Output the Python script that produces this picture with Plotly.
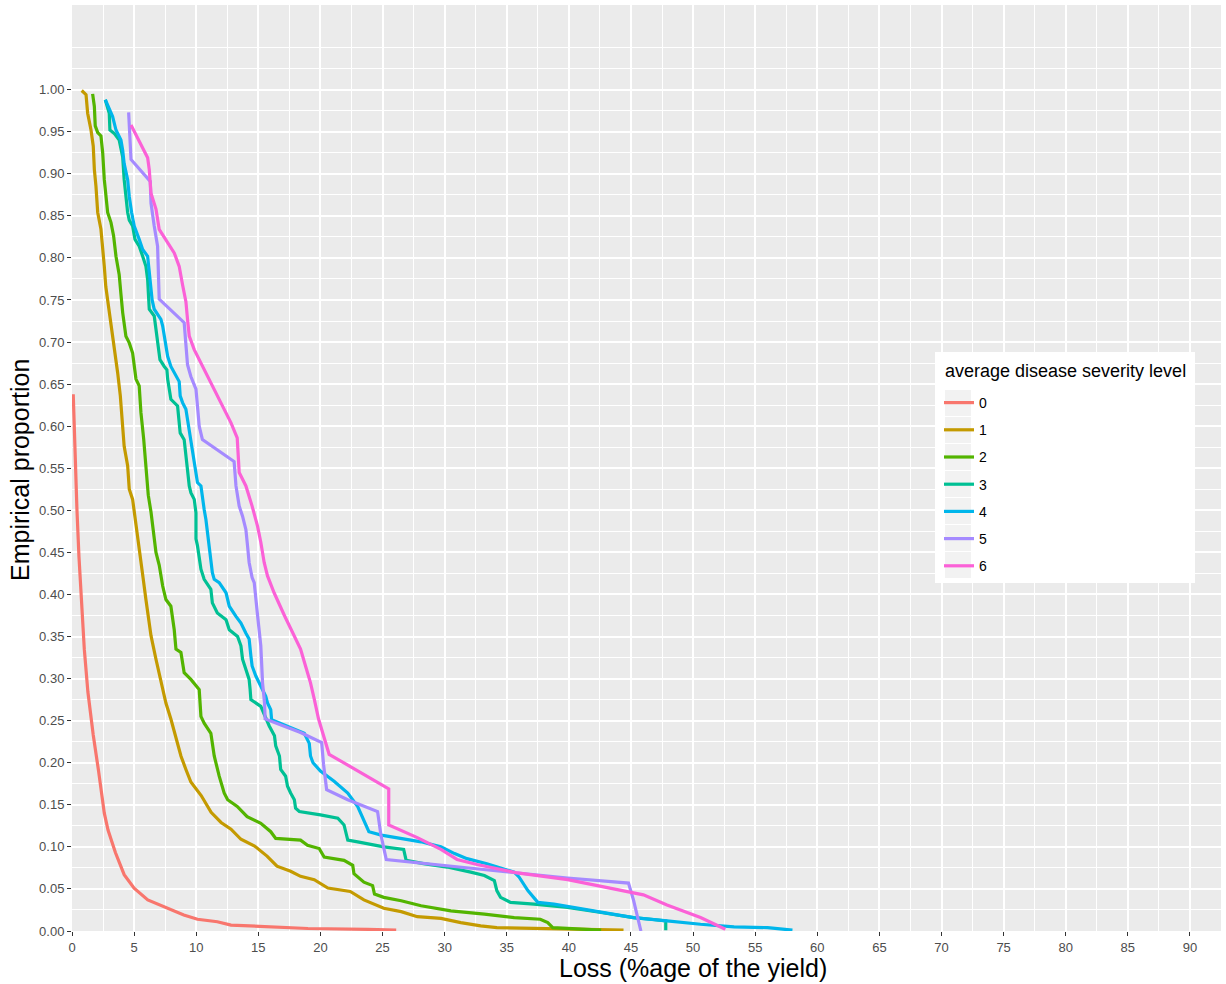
import plotly.graph_objects as go

levels = ["0", "1", "2", "3", "4", "5", "6"]
colors = ["#F8766D", "#C49A00", "#53B400", "#00C094", "#00B6EB", "#A58AFF", "#FB61D7"]

loss_0 = [0.1, 0.18, 0.27, 0.4, 0.56, 0.76, 0.99, 1.28, 1.71, 2.14, 2.6, 2.9, 3.5, 4.2, 5.0, 6.1, 7.7, 9.0, 10.1, 11.7, 12.8, 15.7, 19.0, 23.8, 26.1]
prop_0 = [0.638, 0.6, 0.543, 0.5, 0.445, 0.386, 0.335, 0.284, 0.233, 0.19, 0.14, 0.12, 0.093, 0.067, 0.051, 0.037, 0.027, 0.019, 0.014, 0.011, 0.007, 0.005, 0.003, 0.002, 0.001]

loss_1 = [0.78, 1.13, 1.26, 1.53, 1.71, 1.8, 1.93, 2.07, 2.33, 2.47, 2.6, 2.72, 2.87, 3.0, 3.14, 3.4, 3.68, 3.89, 4.08, 4.2, 4.48, 4.61, 4.88, 5.15, 5.35, 5.55, 5.72, 5.95, 6.36, 6.76, 7.16, 7.56, 7.96, 8.37, 8.77, 9.17, 9.57, 10.4, 11.2, 12.0, 12.8, 13.6, 14.7, 15.7, 16.5, 17.6, 18.4, 19.5, 20.6, 22.4, 23.5, 25.1, 26.5, 27.8, 29.7, 31.3, 32.9, 34.2, 38.5, 42.6, 44.4]
prop_1 = [0.999, 0.994, 0.972, 0.952, 0.933, 0.905, 0.885, 0.854, 0.834, 0.814, 0.79, 0.766, 0.75, 0.739, 0.719, 0.695, 0.663, 0.636, 0.604, 0.576, 0.553, 0.525, 0.513, 0.481, 0.458, 0.438, 0.42, 0.394, 0.351, 0.323, 0.295, 0.271, 0.252, 0.228, 0.208, 0.192, 0.177, 0.161, 0.141, 0.129, 0.121, 0.109, 0.101, 0.089, 0.077, 0.071, 0.065, 0.061, 0.051, 0.047, 0.037, 0.027, 0.023, 0.017, 0.015, 0.01, 0.006, 0.004, 0.003, 0.002, 0.001]

loss_2 = [1.66, 1.8, 1.87, 2.07, 2.33, 2.47, 2.6, 2.74, 2.87, 3.14, 3.35, 3.54, 3.8, 3.94, 4.08, 4.34, 4.61, 4.88, 5.15, 5.41, 5.55, 5.77, 5.95, 6.14, 6.36, 6.57, 6.76, 7.02, 7.16, 7.3, 7.56, 7.96, 8.23, 8.37, 8.77, 9.03, 9.57, 10.24, 10.38, 10.64, 11.18, 11.45, 11.85, 12.25, 12.53, 13.3, 14.1, 15.2, 16.0, 16.4, 18.4, 18.96, 19.9, 20.3, 21.9, 22.6, 22.7, 23.5, 24.2, 24.35, 25.1, 26.5, 28.1, 30.5, 33.2, 35.6, 37.7, 38.3, 38.7, 40.4, 42.6]
prop_2 = [0.995, 0.98, 0.957, 0.949, 0.945, 0.925, 0.893, 0.874, 0.854, 0.842, 0.826, 0.802, 0.78, 0.757, 0.735, 0.707, 0.699, 0.687, 0.656, 0.648, 0.616, 0.585, 0.553, 0.518, 0.498, 0.474, 0.45, 0.435, 0.422, 0.41, 0.394, 0.386, 0.358, 0.335, 0.331, 0.307, 0.299, 0.287, 0.255, 0.247, 0.235, 0.208, 0.184, 0.164, 0.156, 0.148, 0.136, 0.128, 0.118, 0.11, 0.108, 0.102, 0.098, 0.088, 0.084, 0.078, 0.068, 0.058, 0.054, 0.044, 0.04, 0.036, 0.03, 0.024, 0.02, 0.016, 0.014, 0.01, 0.004, 0.003, 0.001]

loss_3 = [2.68, 3.0, 3.05, 3.4, 3.8, 4.08, 4.2, 4.34, 4.48, 4.61, 4.88, 5.07, 5.41, 5.69, 5.95, 6.09, 6.14, 6.22, 6.62, 6.76, 6.89, 7.08, 7.43, 7.64, 7.7, 7.83, 7.96, 8.5, 8.63, 8.71, 9.03, 9.17, 9.3, 9.44, 9.57, 9.84, 9.98, 9.98, 10.1, 10.24, 10.38, 10.64, 11.18, 11.3, 11.7, 12.4, 12.66, 13.33, 13.6, 13.73, 14.0, 14.26, 14.34, 14.4, 15.2, 15.6, 15.87, 16.3, 16.4, 16.7, 16.8, 17.2, 17.35, 17.6, 17.9, 18.0, 18.3, 20.0, 21.4, 21.9, 22.2, 23.0, 23.8, 25.1, 26.7, 26.9, 28.3, 30.2, 32.1, 33.2, 34.0, 34.2, 34.5, 35.3, 37.2, 39.9, 42.6, 45.2, 46.6, 47.8, 47.8]
prop_3 = [0.988, 0.972, 0.952, 0.948, 0.94, 0.92, 0.893, 0.873, 0.854, 0.845, 0.838, 0.822, 0.814, 0.802, 0.79, 0.774, 0.75, 0.739, 0.731, 0.715, 0.703, 0.679, 0.671, 0.667, 0.656, 0.644, 0.632, 0.624, 0.608, 0.592, 0.584, 0.564, 0.553, 0.529, 0.521, 0.513, 0.497, 0.466, 0.458, 0.446, 0.43, 0.418, 0.406, 0.39, 0.378, 0.37, 0.358, 0.35, 0.339, 0.323, 0.311, 0.299, 0.287, 0.275, 0.267, 0.252, 0.244, 0.232, 0.22, 0.208, 0.192, 0.184, 0.172, 0.164, 0.156, 0.146, 0.142, 0.138, 0.134, 0.126, 0.108, 0.106, 0.104, 0.1, 0.097, 0.084, 0.08, 0.076, 0.07, 0.066, 0.06, 0.048, 0.04, 0.034, 0.032, 0.028, 0.022, 0.016, 0.014, 0.012, 0.001]

loss_4 = [2.68, 3.0, 3.27, 3.54, 3.94, 4.08, 4.2, 4.48, 4.61, 4.8, 5.01, 5.41, 5.69, 6.09, 6.22, 6.36, 6.45, 6.62, 7.16, 7.3, 7.43, 7.56, 7.7, 7.96, 8.23, 8.63, 8.71, 8.9, 9.17, 9.3, 9.44, 9.57, 9.71, 9.84, 9.98, 10.1, 10.38, 10.5, 10.64, 10.78, 10.9, 11.05, 11.18, 11.3, 11.45, 11.85, 12.4, 12.66, 13.2, 13.6, 14.0, 14.26, 14.4, 14.5, 14.8, 15.07, 15.3, 15.6, 15.74, 16.0, 16.07, 17.1, 18.16, 18.7, 19.1, 19.2, 19.4, 20.0, 21.1, 22.2, 23.0, 23.5, 23.9, 24.9, 26.5, 28.1, 29.7, 30.8, 31.8, 33.4, 35.6, 36.0, 36.7, 37.5, 38.8, 40.4, 42.6, 45.2, 47.9, 50.6, 53.3, 56.0, 58.0]
prop_4 = [0.988, 0.978, 0.968, 0.952, 0.94, 0.928, 0.912, 0.893, 0.873, 0.854, 0.838, 0.822, 0.81, 0.802, 0.782, 0.766, 0.75, 0.739, 0.727, 0.719, 0.707, 0.695, 0.683, 0.671, 0.663, 0.653, 0.636, 0.628, 0.62, 0.608, 0.596, 0.584, 0.572, 0.561, 0.545, 0.533, 0.529, 0.513, 0.501, 0.489, 0.473, 0.458, 0.442, 0.426, 0.418, 0.414, 0.402, 0.386, 0.374, 0.366, 0.354, 0.347, 0.327, 0.315, 0.303, 0.295, 0.287, 0.279, 0.271, 0.263, 0.251, 0.245, 0.239, 0.235, 0.223, 0.208, 0.2, 0.19, 0.178, 0.164, 0.148, 0.13, 0.118, 0.114, 0.11, 0.106, 0.1, 0.092, 0.086, 0.08, 0.07, 0.064, 0.048, 0.034, 0.032, 0.028, 0.022, 0.016, 0.012, 0.008, 0.005, 0.004, 0.001]

loss_5 = [4.56, 4.61, 4.75, 6.3, 6.36, 6.62, 6.89, 7.02, 9.03, 9.17, 9.3, 9.57, 9.98, 10.1, 10.24, 10.5, 13.05, 13.2, 13.46, 13.73, 14.0, 14.13, 14.26, 14.5, 14.67, 14.94, 15.2, 15.34, 15.5, 15.55, 16.27, 18.4, 20.1, 20.25, 20.5, 22.2, 24.6, 24.86, 25.3, 29.1, 34.5, 39.9, 44.8, 45.2, 45.8]
prop_5 = [0.973, 0.96, 0.917, 0.891, 0.865, 0.838, 0.814, 0.751, 0.723, 0.697, 0.673, 0.659, 0.644, 0.624, 0.6, 0.584, 0.558, 0.529, 0.505, 0.493, 0.477, 0.458, 0.438, 0.42, 0.414, 0.375, 0.339, 0.295, 0.271, 0.252, 0.248, 0.236, 0.224, 0.198, 0.168, 0.156, 0.142, 0.115, 0.085, 0.079, 0.071, 0.063, 0.057, 0.037, 0.0]

loss_6 = [4.75, 6.09, 6.22, 6.36, 6.76, 7.02, 8.23, 8.63, 8.9, 9.17, 9.3, 9.44, 9.84, 10.5, 11.18, 11.98, 12.8, 13.3, 13.46, 14.0, 14.5, 14.94, 15.2, 15.47, 15.74, 16.27, 17.1, 17.9, 18.4, 18.8, 19.2, 19.5, 19.85, 20.7, 25.5, 25.5, 27.8, 29.7, 31.0, 32.6, 35.85, 39.9, 45.2, 46.0, 47.9, 50.6, 52.6]
prop_6 = [0.958, 0.919, 0.905, 0.877, 0.858, 0.834, 0.806, 0.79, 0.768, 0.748, 0.727, 0.707, 0.691, 0.671, 0.652, 0.628, 0.604, 0.586, 0.545, 0.529, 0.505, 0.481, 0.462, 0.438, 0.422, 0.402, 0.375, 0.351, 0.335, 0.315, 0.295, 0.276, 0.252, 0.21, 0.169, 0.126, 0.111, 0.097, 0.085, 0.079, 0.069, 0.061, 0.045, 0.043, 0.031, 0.016, 0.002]

losses = [loss_0, loss_1, loss_2, loss_3, loss_4, loss_5, loss_6]
props = [prop_0, prop_1, prop_2, prop_3, prop_4, prop_5, prop_6]

x_ticks = list(range(0, 95, 5))
y_ticks = [i * 0.05 for i in range(21)]
y_minor = [0.025 + i * 0.05 for i in range(21)] + [1.05]

x_title = "Loss (%age of the yield)"
y_title = "Empirical proportion"
legend_title = "average disease severity level"

# figure geometry (pixels) used to place layout decorations
W, H = 1226, 984
ML, MR, MT, MB = 72, 5, 5, 53
PW, PH = W - ML - MR, H - MT - MB


def px_x(p):
    return (p - ML) / PW


def px_y(p):
    return (H - MB - p) / PH


fig = go.Figure()
for lev, col, xs, ys in zip(levels, colors, losses, props):
    fig.add_trace(go.Scatter(x=xs, y=ys, mode="lines", name=lev, legendgroup=lev,
                             line=dict(color=col, width=3.2)))

axis_common = dict(showline=False, zeroline=False, ticks="outside", ticklen=4,
                   tickcolor="#333333", tickwidth=1,
                   tickfont=dict(family="Liberation Sans, Arial", size=13, color="#4D4D4D"),
                   gridcolor="white", gridwidth=2)

shapes = [dict(type="rect", xref="paper", yref="paper",
               x0=px_x(935), x1=px_x(1195), y0=px_y(583), y1=px_y(352),
               fillcolor="white", line=dict(width=0), layer="above")]
for k in range(len(levels)):
    cy = 403 + 27 * k
    shapes.append(dict(type="rect", xref="paper", yref="paper",
                       x0=px_x(945), x1=px_x(971), y0=px_y(cy + 13), y1=px_y(cy - 13),
                       fillcolor="#F2F2F2", line=dict(width=0), layer="above"))

annotations = [
    dict(text=x_title, xref="paper", yref="paper", x=px_x(693), y=px_y(968),
         xanchor="center", yanchor="middle", showarrow=False,
         font=dict(size=25, color="black")),
    dict(text=y_title, xref="paper", yref="paper", x=px_x(20), y=px_y(470),
         xanchor="center", yanchor="middle", textangle=-90, showarrow=False,
         font=dict(size=25, color="black")),
    dict(text=legend_title, xref="paper", yref="paper", x=px_x(943), y=px_y(371),
         xanchor="left", yanchor="middle", showarrow=False,
         font=dict(size=18, color="black")),
]

fig.update_layout(
    width=W, height=H,
    margin=dict(l=ML, r=MR, t=MT, b=MB),
    paper_bgcolor="white", plot_bgcolor="#EBEBEB",
    font=dict(family="Liberation Sans, Arial", color="black"),
    xaxis=dict(range=[0, 92.5], tickmode="array", tickvals=x_ticks,
               ticktext=[str(v) for v in x_ticks],
               minor=dict(dtick=2.5, tick0=0, showgrid=True, gridcolor="white", gridwidth=1.2, ticks=""),
               **axis_common),
    yaxis=dict(range=[0, 1.1006], tickmode="array", tickvals=y_ticks,
               ticktext=[f"{v:.2f}" for v in y_ticks],
               minor=dict(tickvals=y_minor, showgrid=True, gridcolor="white", gridwidth=1.2, ticks=""),
               **axis_common),
    legend=dict(x=px_x(939), y=px_y(387), xanchor="left", yanchor="top",
                bgcolor="rgba(0,0,0,0)", borderwidth=0,
                font=dict(size=14, color="black"), itemwidth=30, tracegroupgap=6),
    shapes=shapes,
    annotations=annotations,
    showlegend=True,
)

fig.write_html("out.html")
